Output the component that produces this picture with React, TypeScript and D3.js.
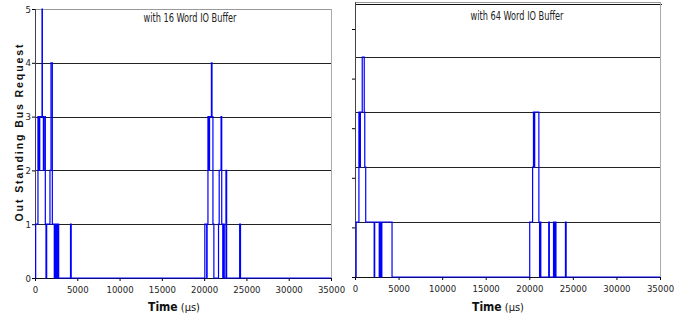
import React, { useEffect, useRef } from 'react';
import * as d3 from 'd3';

const timeTicks = [0, 5000, 10000, 15000, 20000, 25000, 30000, 35000];
const levelTicks = [0, 1, 2, 3, 4, 5];

// step points: time (us) where the outstanding request count changes
const time16 = [
  0, 80, 350, 480, 560, 830, 870, 990, 1150, 1220, 1300, 1380, 1770, 1890, 2050, 2280, 2330, 2400,
  2440, 2560, 2620, 2680, 2720, 2800, 4200, 4280, 20080, 20300, 20350, 20450, 20560, 20640, 20860,
  20930, 21040, 21150, 21700, 21780, 22000, 22080, 22200, 22280, 22380, 22580, 22660, 24200, 24300,
  35000,
];
const count16 = [
  0, 1, 3, 2, 3, 5, 3, 2, 3, 1, 0, 1, 2, 4, 1, 0, 1, 0, 1, 0, 1, 0, 1, 0, 1, 0, 1, 0, 1, 3, 2, 3, 4,
  3, 1, 0, 1, 2, 3, 1, 0, 1, 0, 2, 0, 1, 0, 0,
];

const time64 = [
  0, 130, 450, 560, 620, 830, 1060, 1120, 1230, 2200, 2260, 2780, 2830, 2900, 2960, 3020, 3080, 4250,
  20050, 20380, 20480, 20560, 20620, 21100, 21180, 21250, 21320, 22230, 22300, 22780, 22850, 22980,
  23060, 24150, 24230, 35000,
];
const count64 = [
  0, 1, 3, 2, 3, 4, 3, 2, 1, 0, 1, 0, 1, 0, 1, 0, 1, 0, 1, 2, 3, 2, 3, 1, 0, 1, 0, 1, 0, 1, 0, 1, 0,
  1, 0, 0,
];

const narrow = "'Liberation Sans Narrow', 'Arial Narrow', 'DejaVu Sans Condensed', sans-serif";

interface Panel {
  left: number;
  right: number;
  top: number;
  bottom: number;
  tickTop: number;
  title: string;
  titleX: number;
  titleY: number;
  labelX: number;
  yLabels: boolean;
  data: Array<[number, number]>;
  topRule: boolean;
}

const panels: Panel[] = [
  {
    left: 35, right: 331, top: 9, bottom: 278, tickTop: 9,
    title: 'with 16 Word IO Buffer', titleX: 190, titleY: 22, labelX: 174,
    yLabels: true, data: d3.zip(time16, count16) as Array<[number, number]>, topRule: false,
  },
  {
    left: 355, right: 660, top: 2, bottom: 277, tickTop: 29,
    title: 'with 64 Word IO Buffer', titleX: 517, titleY: 20, labelX: 498,
    yLabels: false, data: d3.zip(time64, count64) as Array<[number, number]>, topRule: true,
  },
];

const drawPanel = (svg: d3.Selection<SVGSVGElement, unknown, null, undefined>, p: Panel) => {
  const x = d3.scaleLinear().domain([0, 35000]).range([p.left, p.right]);
  const y = d3.scaleLinear().domain([0, 5]).range([p.bottom, p.top]);
  const yTicks = d3.scaleLinear().domain([0, 5]).range([p.bottom, p.tickTop]);
  const g = svg.append('g');

  g.append('g')
    .selectAll('line')
    .data(levelTicks.slice(1))
    .join('line')
    .attr('x1', p.left)
    .attr('x2', p.right)
    .attr('y1', (d) => Math.round(y(d)) + 0.5)
    .attr('y2', (d) => Math.round(y(d)) + 0.5)
    .attr('stroke', (d) => (d === 5 ? '#999' : '#222'))
    .attr('stroke-width', 1);

  if (p.topRule) {
    g.append('line')
      .attr('x1', p.left).attr('x2', p.right + 2)
      .attr('y1', p.top + 2.5).attr('y2', p.top + 2.5)
      .attr('stroke', '#111').attr('stroke-width', 1.2);
  }

  g.append('line')
    .attr('x1', p.right + 0.5).attr('x2', p.right + 0.5)
    .attr('y1', p.top).attr('y2', p.bottom)
    .attr('stroke', '#aaa');

  g.append('text')
    .attr('x', p.titleX).attr('y', p.titleY)
    .attr('text-anchor', 'middle')
    .attr('font-family', narrow).attr('font-size', 11.5)
    .attr('textLength', 93).attr('lengthAdjust', 'spacingAndGlyphs')
    .attr('fill', '#222')
    .text(p.title);

  g.append('g')
    .attr('transform', `translate(0,${p.bottom})`)
    .call(d3.axisBottom(x).tickValues(timeTicks).tickSize(3).tickSizeOuter(0).tickFormat(d3.format('d')))
    .call((a) => a.select('.domain').attr('stroke', '#111'))
    .call((a) => a.selectAll('text').attr('font-family', narrow).attr('font-size', 9.5).attr('fill', '#222').attr('dy', '0.9em'));

  g.append('g')
    .attr('transform', `translate(${p.left},0)`)
    .call(
      d3.axisLeft(yTicks)
        .tickValues(levelTicks)
        .tickSize(3)
        .tickSizeOuter(0)
        .tickFormat((d) => (p.yLabels ? d3.format('d')(d as number) : '')),
    )
    .call((a) => a.select('.domain').attr('stroke', '#444').attr('d', `M0.5,${p.top}V${p.bottom}`))
    .call((a) => a.selectAll('text').attr('font-family', narrow).attr('font-size', 9.5).attr('fill', '#222').attr('x', -4));

  const line = d3
    .line<[number, number]>()
    .x((d) => x(d[0]))
    .y((d) => y(d[1]))
    .curve(d3.curveStepAfter);

  g.append('path')
    .datum(p.data)
    .attr('d', line)
    .attr('fill', 'none')
    .attr('stroke', '#0000ff')
    .attr('stroke-width', 1.2);

  const label = g.append('text')
    .attr('x', p.labelX).attr('y', 311)
    .attr('text-anchor', 'middle')
    .attr('font-family', narrow).attr('font-size', 12)
    .attr('fill', '#111');
  label.append('tspan').attr('font-weight', 'bold').text('Time');
  label.append('tspan').attr('font-size', 11).text(' (\u00b5s)');
};

const App = () => {
  const ref = useRef<SVGSVGElement>(null);

  useEffect(() => {
    if (!ref.current) {
      return;
    }
    const svg = d3.select(ref.current);
    svg.selectAll('*').remove();
    panels.forEach((p) => drawPanel(svg, p));

    svg.append('text')
      .attr('transform', 'translate(23,133) rotate(-90)')
      .attr('text-anchor', 'middle')
      .attr('font-family', "'Liberation Sans', Arial, sans-serif")
      .attr('font-weight', 'bold')
      .attr('font-size', 10.5)
      .attr('textLength', 177)
      .attr('lengthAdjust', 'spacing')
      .attr('fill', '#111')
      .text('Out Standing Bus Request');
  }, []);

  return (
    <svg
      ref={ref}
      width={683}
      height={321}
      viewBox="0 0 683 321"
      style={{ position: 'absolute', left: 0, top: 0, background: '#fff' }}
    />
  );
};

export default App;
